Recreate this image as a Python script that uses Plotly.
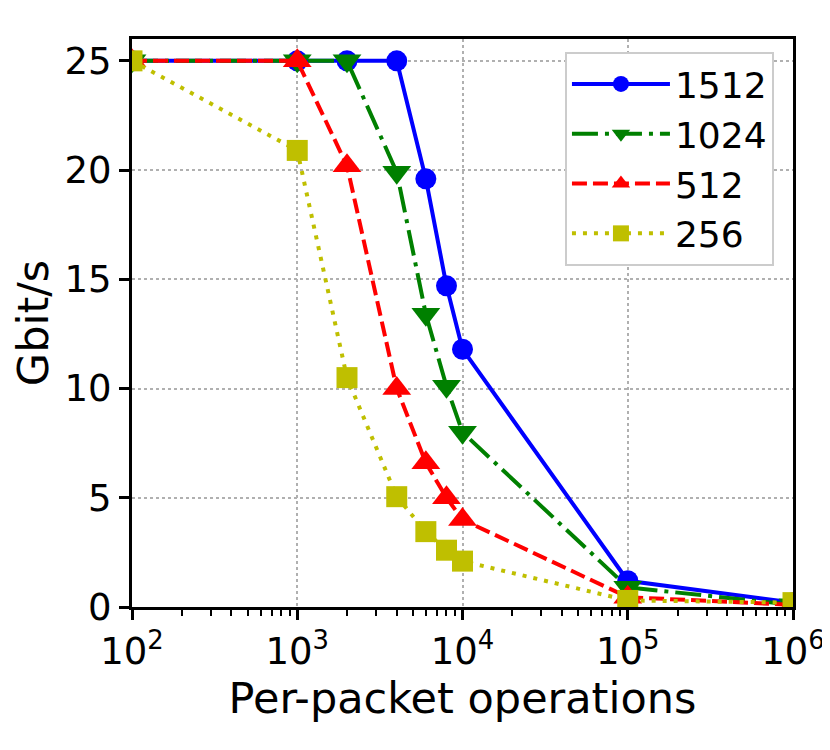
import plotly.graph_objects as go

# operacoes por pacote (eixo x, escala log)
ops = [100, 1000, 2000, 4000, 6000, 8000, 10000, 100000, 1000000]

# vazao em Gbit/s para cada tamanho de pacote
gbit_1512 = [25, 25, 25, 25, 19.6, 14.7, 11.8, 1.2, 0.2]
gbit_1024 = [25, 25, 25, 19.9, 13.4, 10.1, 8.0, 0.9, 0.1]
gbit_512 = [25, 25, 20.2, 10.0, 6.6, 5.0, 4.0, 0.45, 0.1]
gbit_256 = [25, 20.9, 10.5, 5.05, 3.45, 2.6, 2.1, 0.3, 0.2]

x_tickvals = [100, 1000, 10000, 100000, 1000000]
x_ticktext = ["10<sup>2</sup>", "10<sup>3</sup>", "10<sup>4</sup>", "10<sup>5</sup>", "10<sup>6</sup>"]
y_tickvals = [0, 5, 10, 15, 20, 25]

FONT = "DejaVu Sans"

series = [
    ("1512", gbit_1512, "#0000ff", "solid", "circle", 21),
    ("1024", gbit_1024, "#008000", "26px,7px,4px,7px", "triangle-down", 25),
    ("512", gbit_512, "#ff0000", "15px,6px", "triangle-up", 25),
    ("256", gbit_256, "#bfbf00", "4px,7px", "square", 21),
]

fig = go.Figure()
for name, vals, cor, dash, simbolo, tam in series:
    fig.add_trace(go.Scatter(
        x=ops, y=vals, name=name, mode="lines+markers",
        line=dict(color=cor, width=4, dash=dash),
        marker=dict(symbol=simbolo, size=tam, color=cor),
    ))

# a pagina tem margem de 8px no body, por isso o deslocamento
fig.update_layout(
    width=830, height=750,
    margin=dict(l=124, r=45, t=31, b=151),
    plot_bgcolor="white", paper_bgcolor="white",
    font=dict(family=FONT, size=37, color="black"),
    showlegend=True,
    legend=dict(
        x=0.655, y=0.977, xanchor="left", yanchor="top",
        bgcolor="white", bordercolor="#cccccc", borderwidth=2,
        font=dict(size=36),
        itemwidth=98,
        tracegroupgap=0,
    ),
)

fig.update_xaxes(
    type="log", range=[2, 6],
    tickvals=x_tickvals, ticktext=x_ticktext,
    showline=True, linecolor="black", linewidth=3, mirror=True,
    ticks="outside", ticklen=10, tickwidth=2.5, tickcolor="black",
    showgrid=True, gridcolor="#b0b0b0", gridwidth=2, griddash="dot",
    minor=dict(ticks="outside", ticklen=6, tickwidth=2, tickcolor="black",
               dtick="D1", showgrid=False),
    zeroline=False,
    title=dict(text="Per-packet operations", font=dict(size=43), standoff=10),
)

fig.update_yaxes(
    range=[0, 26], tickvals=y_tickvals,
    showline=True, linecolor="black", linewidth=3, mirror=True,
    ticks="outside", ticklen=10, tickwidth=2.5, tickcolor="black",
    showgrid=True, gridcolor="#b0b0b0", gridwidth=2, griddash="dot",
    zeroline=False,
    title=dict(text="Gbit/s", font=dict(size=43), standoff=14),
)

fig.write_html("out.html")
